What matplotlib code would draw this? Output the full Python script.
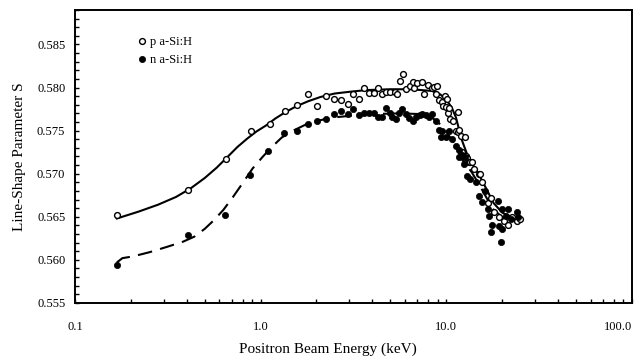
import matplotlib
matplotlib.use("Agg")
import matplotlib.pyplot as plt
from matplotlib.ticker import FixedLocator, MultipleLocator, LogLocator, NullFormatter

plt.rcParams['font.family'] = ['Liberation Serif', 'DejaVu Serif']

# p a-Si:H data (open circles)
p_E = [0.168, 0.405, 0.648, 0.884, 1.118, 1.346, 1.58, 1.81, 2.02, 2.26, 2.50, 2.72, 2.97, 3.16,
       3.40, 3.62, 3.85, 4.06, 4.30, 4.53, 4.75, 5.0, 5.3, 5.46, 5.66, 5.87, 6.08, 6.40, 6.6, 6.7,
       6.98, 7.43, 7.6, 8.0, 8.4, 8.6, 8.8, 8.95, 9.2, 9.5, 9.6, 9.8, 10.0, 10.1, 10.2, 10.4, 10.5,
       10.9, 11.3, 11.6, 11.6, 11.7, 12.0, 12.1, 12.3, 12.6, 12.8, 12.9, 13.2, 13.4, 13.7, 14.1,
       15.0, 15.2, 15.6, 16.8, 17.4, 18.1, 19.3, 20.4, 21.6, 22.5, 24.0, 25.0]
p_S = [0.5652, 0.5681, 0.5717, 0.5749, 0.5758, 0.5773, 0.5780, 0.5793, 0.5778, 0.5790, 0.5787, 0.5786, 0.5781, 0.5793,
       0.5787, 0.5799, 0.5794, 0.5794, 0.5800, 0.5793, 0.5795, 0.5795, 0.5795, 0.5793, 0.5807, 0.5816, 0.5798, 0.5802, 0.5806, 0.5799,
       0.5805, 0.5806, 0.5793, 0.5803, 0.5799, 0.5801, 0.5792, 0.5802, 0.5786, 0.5783, 0.5779, 0.5790, 0.5777, 0.5787, 0.5771, 0.5776, 0.5763,
       0.5761, 0.5750, 0.5772, 0.5748, 0.5751, 0.5744, 0.5725, 0.5720, 0.5743, 0.5720, 0.5718, 0.5714, 0.5713, 0.5713, 0.5705,
       0.5700, 0.5700, 0.5690, 0.5666, 0.5672, 0.5655, 0.5650, 0.5645, 0.5641, 0.5650, 0.5645, 0.5648]

# n a-Si:H data (filled circles)
n_E = [0.168, 0.405, 0.640, 0.873, 1.10, 1.33, 1.58, 1.81, 2.02, 2.26, 2.5, 2.72, 2.97, 3.16, 3.4,
       3.62, 3.85, 4.06, 4.30, 4.53, 4.75, 4.95, 5.1, 5.35, 5.56, 5.8, 6.08, 6.3, 6.6, 6.9, 7.2,
       7.43, 7.8, 8.1, 8.4, 8.8, 9.2, 9.4, 9.5, 10.0, 10.4, 10.8, 11.3, 11.7, 11.7, 12.2, 12.4,
       12.7, 12.9, 13.5, 14.4, 15.0, 15.6, 16.2, 16.7, 17.1, 17.4, 17.7, 19.0, 19.3, 19.7, 19.9,
       19.9, 21.0, 21.6, 22.3, 24.0, 24.5]
n_S = [0.5594, 0.5629, 0.5652, 0.5698, 0.5726, 0.5747, 0.5749, 0.5758, 0.5761, 0.5763, 0.5769, 0.5773, 0.5769, 0.5775, 0.5768,
       0.5771, 0.5771, 0.5770, 0.5766, 0.5766, 0.5776, 0.5771, 0.5766, 0.5763, 0.5771, 0.5775, 0.5769, 0.5765, 0.5761, 0.5766, 0.5768,
       0.5769, 0.5768, 0.5766, 0.5769, 0.5761, 0.5751, 0.5743, 0.5750, 0.5743, 0.5749, 0.5740, 0.5732, 0.5728, 0.5719, 0.5722, 0.5711,
       0.5719, 0.5697, 0.5694, 0.5690, 0.5674, 0.5667, 0.5680, 0.5659, 0.5651, 0.5632, 0.5641, 0.5668, 0.5639, 0.5621, 0.5659,
       0.5636, 0.5651, 0.5659, 0.5647, 0.5655, 0.5650]

# fitted curves
p_fit_E = [0.168, 0.22, 0.28, 0.35, 0.42, 0.5, 0.58, 0.66, 0.75, 0.85, 0.95, 1.07, 1.2, 1.35, 1.55,
           1.8, 2.1, 2.5, 3.0, 3.7, 5.0, 6.5, 8.4, 9.3, 10.0, 10.7, 11.3, 12.1, 13.2, 15.0, 16.5, 18.0,
           20.0, 22.0, 24.0]
p_fit_S = [0.5648, 0.5656, 0.5664, 0.5673, 0.5683, 0.5695, 0.5707, 0.5719, 0.5731, 0.5741, 0.5749, 0.5756, 0.5764, 0.5771, 0.5778,
           0.5784, 0.5789, 0.5793, 0.5795, 0.5797, 0.5798, 0.5798, 0.5796, 0.5792, 0.5786, 0.5777, 0.5765, 0.5740, 0.5718, 0.5699, 0.5682, 0.5666,
           0.5655, 0.5650, 0.5648]

n_fit_E = [0.168, 0.18, 0.205, 0.253, 0.312, 0.381, 0.44, 0.5, 0.56, 0.63, 0.71, 0.80, 0.905, 1.03, 1.15,
           1.3, 1.5, 1.75, 2.0, 2.4, 3.7, 5.56, 7.8, 8.4, 9.2, 10.0, 11.3, 12.1, 13.7, 15.0, 16.5, 18.0,
           20.0, 22.0, 24.0]
n_fit_S = [0.5597, 0.5602, 0.5604, 0.5609, 0.5615, 0.5621, 0.5627, 0.5636, 0.5646, 0.5658, 0.5673, 0.5689, 0.5706, 0.5720, 0.5731,
           0.5742, 0.5750, 0.5757, 0.5761, 0.5765, 0.5769, 0.5770, 0.5769, 0.5765, 0.5758, 0.5749, 0.5732, 0.5717, 0.5702, 0.5688, 0.5672, 0.5658,
           0.5650, 0.5647, 0.5646]

x_ticks = [0.1, 1.0, 10.0, 100.0]
x_tick_labels = ["0.1", "1.0", "10.0", "100.0"]
y_ticks = [0.555, 0.560, 0.565, 0.570, 0.575, 0.580, 0.585]
y_tick_labels = ["0.555", "0.560", "0.565", "0.570", "0.575", "0.580", "0.585"]

fig = plt.figure(figsize=(6.44, 3.56), dpi=100)
ax = fig.add_axes([0.1165, 0.149, 0.8645, 0.823])

ax.plot(p_fit_E, p_fit_S, color='black', lw=1.5, zorder=2, solid_joinstyle='round')
ax.plot(n_fit_E, n_fit_S, color='black', lw=1.5, dashes=(7, 4), zorder=2)
ax.plot(p_E, p_S, 'o', ms=4.2, mfc='white', mec='black', mew=1.0, zorder=3, label='p a-Si:H')
ax.plot(n_E, n_S, 'o', ms=4.5, mfc='black', mec='black', mew=0.5, zorder=3, label='n a-Si:H')

ax.set_xscale('log')
ax.set_xlim(0.1, 100)
ax.set_ylim(0.555, 0.589)

ax.xaxis.set_major_locator(FixedLocator(x_ticks))
ax.set_xticklabels(x_tick_labels)
ax.xaxis.set_minor_locator(LogLocator(base=10, subs=range(2, 10)))
ax.xaxis.set_minor_formatter(NullFormatter())
ax.yaxis.set_major_locator(FixedLocator(y_ticks))
ax.set_yticklabels(y_tick_labels)
ax.yaxis.set_minor_locator(MultipleLocator(0.001))

ax.tick_params(axis='both', which='both', direction='in', top=False, right=False,
               width=1.0, labelsize=9)
ax.tick_params(axis='both', which='major', length=3)
ax.tick_params(axis='both', which='minor', length=3)
ax.tick_params(axis='x', which='both', pad=13)
ax.tick_params(axis='y', which='both', pad=7)

# last x tick label sits left of its tick in the reference
ax.get_xticklabels()[-1].set_horizontalalignment('right')

for s in ax.spines.values():
    s.set_linewidth(1.4)

ax.set_xlabel('Positron Beam Energy (keV)', fontsize=11, labelpad=6)
ax.xaxis.set_label_coords(0.454, -0.135)
ax.set_ylabel('Line-Shape Parameter S', fontsize=11, labelpad=8)

leg = ax.legend(loc='upper left', bbox_to_anchor=(0.104, 0.927), frameon=False, fontsize=9,
                handlelength=0.6, handletextpad=0.4, labelspacing=0.45, borderaxespad=0)

fig.savefig('out.png', dpi=100)
